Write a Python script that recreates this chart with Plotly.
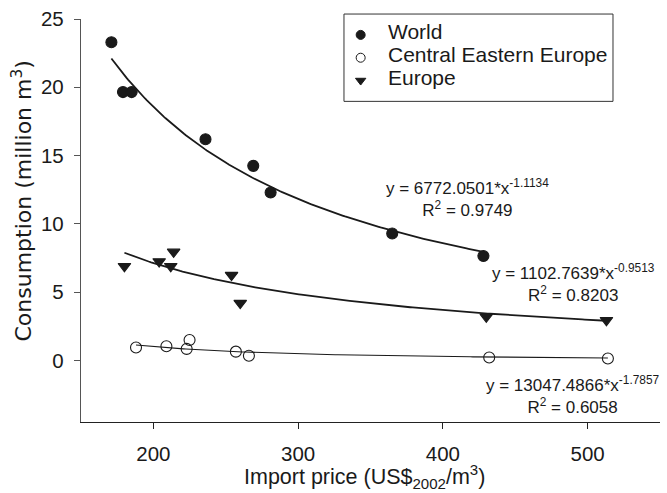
import numpy as np
import plotly.graph_objects as go

# Import price (US$2002/m3) and consumption (million m3) per region
world_price = [171, 179, 185, 236, 269, 281, 365, 428]
world_cons = [23.3, 19.65, 19.65, 16.2, 14.25, 12.3, 9.3, 7.65]

cee_price = [188, 209, 223, 225, 257, 266, 432, 514]
cee_cons = [0.95, 1.05, 0.85, 1.5, 0.65, 0.35, 0.22, 0.15]

europe_price = [180, 204, 212, 214, 254, 260, 430, 513]
europe_cons = [6.9, 7.25, 6.9, 7.95, 6.25, 4.2, 3.2, 2.95]

# Power-law fits y = a * x^b with R^2
world_fit = (6772.0501, -1.1134, 0.9749)
europe_fit = (1102.7639, -0.9513, 0.8203)
cee_fit = (13047.4866, -1.7857, 0.6058)

series_names = ["World", "Central Eastern Europe", "Europe"]
series_symbols = ["circle", "circle-open", "triangle-down"]

x_ticks = [200, 300, 400, 500]
y_ticks = [0, 5, 10, 15, 20, 25]

FONT = "Liberation Sans, Arial, Helvetica, sans-serif"
INK = "#1a1a1a"

fig = go.Figure()


def fit_curve(xs, coef, width):
    a, b, _ = coef
    xx = np.linspace(min(xs), max(xs), 200)
    fig.add_trace(go.Scatter(x=xx, y=a * xx ** b, mode="lines",
                             line=dict(color=INK, width=width),
                             showlegend=False, hoverinfo="skip"))


fit_curve(world_price, world_fit, 1.8)
fit_curve(europe_price, europe_fit, 1.8)
fit_curve(cee_price, cee_fit, 1.1)

# Data points
for xs, ys, sym in [(world_price, world_cons, series_symbols[0]),
                    (cee_price, cee_cons, series_symbols[1]),
                    (europe_price, europe_cons, series_symbols[2])]:
    fig.add_trace(go.Scatter(x=xs, y=ys, mode="markers", showlegend=False,
                             marker=dict(symbol=sym, size=11, color=INK,
                                         line=dict(width=1.1, color=INK))))

# Boxed key in the upper right, laid out on an overlay axis in 0..1 units
box_x0, box_x1, box_y0, box_y1 = 0.4542, 0.9188, 0.7956, 1.0123
row_y = [0.9606, 0.9039, 0.8473]
sym_x, text_x = 0.483, 0.527

fig.add_shape(type="rect", xref="paper", yref="paper",
              x0=box_x0, x1=box_x1, y0=box_y0, y1=box_y1,
              line=dict(color="#333", width=1), fillcolor="rgba(0,0,0,0)")
fig.add_trace(go.Scatter(x=[sym_x] * 3, y=row_y, mode="markers",
                         xaxis="x2", yaxis="y2", showlegend=False,
                         hoverinfo="skip",
                         marker=dict(symbol=series_symbols, size=9, color=INK,
                                     line=dict(width=1, color=INK))))
for name, ry in zip(series_names, row_y):
    fig.add_annotation(x=text_x, y=ry, xref="paper", yref="paper",
                       xanchor="left", yanchor="middle", yshift=3,
                       text=name, showarrow=False,
                       font=dict(family=FONT, size=21, color=INK))


def eq_text(coef):
    a, b, r2 = coef
    return f"y = {a:.4f}*x<sup>{b:.4f}</sup><br>R<sup>2</sup> = {r2:.4f}"


for coef, ax, ay in [(world_fit, 417, 11.9),
                     (europe_fit, 490, 5.65),
                     (cee_fit, 490, -2.5)]:
    fig.add_annotation(x=ax, y=ay, xref="x", yref="y", text=eq_text(coef),
                       showarrow=False, align="center",
                       font=dict(family=FONT, size=17, color=INK))

# Axis titles
fig.add_annotation(x=0, y=0.5, xref="paper", yref="paper",
                   xanchor="center", yanchor="middle",
                   xshift=-60, yshift=19, textangle=-90,
                   text="Consumption (million m<sup>3</sup>)", showarrow=False,
                   font=dict(family="DejaVu Sans, Liberation Sans, sans-serif",
                             size=22, color=INK))
fig.add_annotation(x=0.5, y=0, xref="paper", yref="paper",
                   xanchor="center", yanchor="middle",
                   xshift=-6, yshift=-54,
                   text="Import price (US$<sub>2002</sub>/m<sup>3</sup>)",
                   showarrow=False,
                   font=dict(family=FONT, size=21.5, color=INK))

fig.update_layout(
    width=667, height=493,
    margin=dict(l=81, r=7, t=16, b=71),
    paper_bgcolor="white", plot_bgcolor="white",
    font=dict(family=FONT, size=20, color=INK),
    showlegend=False,
    xaxis=dict(range=[150, 550], tickvals=x_ticks, showgrid=False,
               zeroline=False, showline=True, linecolor="#222", linewidth=1.3,
               ticks="outside", ticklen=6, tickcolor="#222",
               tickfont=dict(size=20.5), ticklabelstandoff=7),
    yaxis=dict(range=[-4.5, 25], tickvals=y_ticks, showgrid=False,
               zeroline=False, showline=True, linecolor="#555", linewidth=1.3,
               ticks="outside", ticklen=6, tickcolor="#555",
               tickfont=dict(size=20.5), ticklabelstandoff=6),
    xaxis2=dict(overlaying="x", range=[0, 1], visible=False, fixedrange=True),
    yaxis2=dict(overlaying="y", range=[0, 1], visible=False, fixedrange=True),
)

fig.write_html("out.html")
